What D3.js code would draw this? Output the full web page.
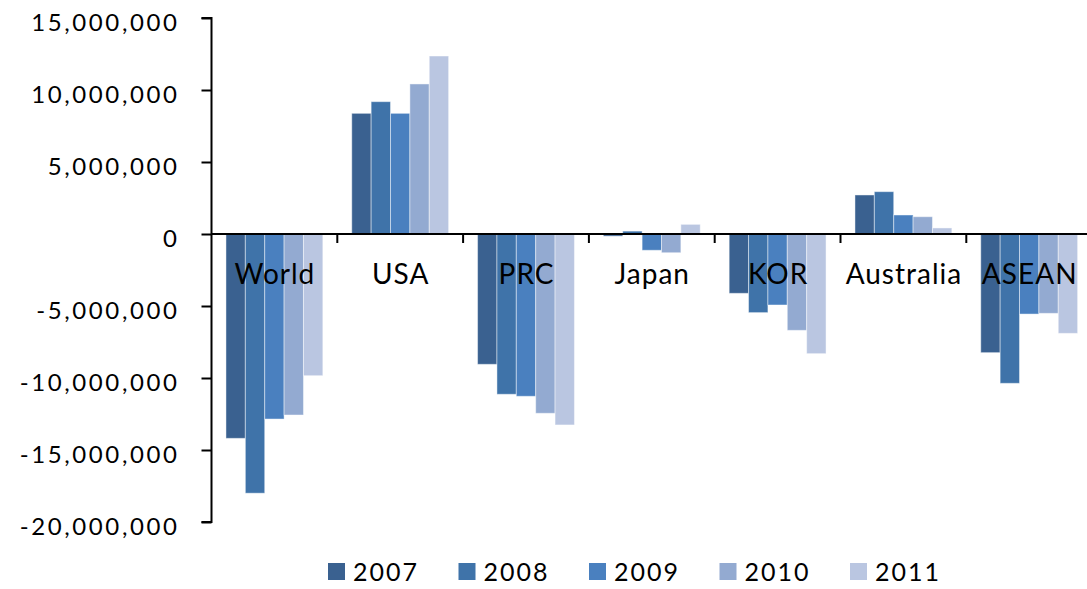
<!DOCTYPE html>
<html>
<head>
<meta charset="utf-8">
<script src="https://cdn.jsdelivr.net/npm/d3@7"></script>
<style>
  body { margin: 0; background: #fff; }
  text { font-family: Lato, "Open Sans", sans-serif; fill: #000; }
</style>
</head>
<body>
<div id="chart"></div>
<script>
// data
var categories = ["World", "USA", "PRC", "Japan", "KOR", "Australia", "ASEAN"];
var years = ["2007", "2008", "2009", "2010", "2011"];
var v2007 = [-14190000, 8380000, -9050000, -150000, -4120000, 2710000, -8240000];
var v2008 = [-18000000, 9190000, -11130000, 200000, -5460000, 2940000, -10370000];
var v2009 = [-12850000, 8380000, -11270000, -1130000, -4930000, 1320000, -5560000];
var v2010 = [-12570000, 10420000, -12450000, -1300000, -6690000, 1200000, -5510000];
var v2011 = [-9840000, 12360000, -13260000, 670000, -8310000, 420000, -6900000];
var yTicks = [15000000, 10000000, 5000000, 0, -5000000, -10000000, -15000000, -20000000];
var colors = ["#3a6190", "#3f73a9", "#4a80bf", "#93aad1", "#bac6e1"];

var series = [v2007, v2008, v2009, v2010, v2011];
var rows = categories.map(function(c, i) {
    var r = { cat: c };
    years.forEach(function(y, j) { r[y] = series[j][i]; });
    return r;
});

var width = 1087, height = 589;
var plotLeft = 211.5, plotTop = 18, plotBottom = 522;
var bandW = 125.8;

var svg = d3.select("#chart").append("svg")
    .attr("width", width)
    .attr("height", height);

var x = d3.scaleBand()
    .domain(categories)
    .range([plotLeft, plotLeft + bandW * categories.length])
    .padding(0);

var xInner = d3.scaleBand()
    .domain(years)
    .range([bandW * 0.115, bandW * 0.885])
    .padding(0);

var y = d3.scaleLinear()
    .domain([-20000000, 15000000])
    .range([plotBottom, plotTop]);

// bars
var groups = svg.selectAll(".cat")
    .data(rows)
    .enter().append("g")
    .attr("class", "cat")
    .attr("transform", function(d) { return "translate(" + x(d.cat) + ",0)"; });

groups.selectAll("rect")
    .data(function(d) { return years.map(function(yr, j) { return { yr: yr, v: d[yr], j: j }; }); })
    .enter().append("rect")
    .attr("x", function(d) { return xInner(d.yr); })
    .attr("width", xInner.bandwidth())
    .attr("y", function(d) { return y(Math.max(0, d.v)); })
    .attr("height", function(d) { return Math.abs(y(d.v) - y(0)); })
    .attr("fill", function(d) { return colors[d.j]; })
    .attr("stroke", "rgba(255,255,255,0.45)")
    .attr("stroke-width", 1);

// y axis (hyphen minus like the original)
var fmt = d3.format(",");
var yAxis = d3.axisLeft(y)
    .tickValues(yTicks)
    .tickFormat(function(d) { return fmt(d).replace("\u2212", "-"); })
    .tickSize(10)
    .tickPadding(22);

var ya = svg.append("g")
    .attr("transform", "translate(" + plotLeft + ",0)")
    .call(yAxis);
ya.select(".domain").attr("stroke", "#000").attr("stroke-width", 2)
    .attr("d", "M-10," + y(15000000) + "H0V" + y(-20000000) + "H-10");
ya.selectAll(".tick line").attr("stroke", "#000").attr("stroke-width", 2);
ya.selectAll(".tick text")
    .style("font-size", "24px")
    .style("font-family", "Lato, sans-serif")
    .style("letter-spacing", "2.6px")
    .attr("dy", "0.5em");

// zero line with category ticks
svg.append("line")
    .attr("x1", plotLeft).attr("x2", width)
    .attr("y1", y(0)).attr("y2", y(0))
    .attr("stroke", "#000").attr("stroke-width", 2);

svg.selectAll(".ctick")
    .data(categories.slice(1))
    .enter().append("line")
    .attr("class", "ctick")
    .attr("x1", function(d) { return x(d); })
    .attr("x2", function(d) { return x(d); })
    .attr("y1", y(0))
    .attr("y2", y(0) + 9)
    .attr("stroke", "#000").attr("stroke-width", 2);

// category labels
svg.selectAll(".clabel")
    .data(categories)
    .enter().append("text")
    .attr("class", "clabel")
    .attr("x", function(d) { return x(d) + x.bandwidth() / 2 + 0.5; })
    .attr("y", 284)
    .attr("text-anchor", "middle")
    .style("font-size", "28px")
    .style("letter-spacing", "1px")
    .text(function(d) { return d; });

// legend
var legend = svg.selectAll(".leg")
    .data(years)
    .enter().append("g")
    .attr("class", "leg")
    .attr("transform", function(d, i) { return "translate(" + (328 + i * 130.5) + ",563)"; });

legend.append("rect")
    .attr("width", 17)
    .attr("height", 17)
    .attr("fill", function(d, i) { return colors[i]; });

legend.append("text")
    .attr("x", 25)
    .attr("y", 18)
    .style("font-size", "25px")
    .style("letter-spacing", "2px")
    .text(function(d) { return d; });
</script>
</body>
</html>
